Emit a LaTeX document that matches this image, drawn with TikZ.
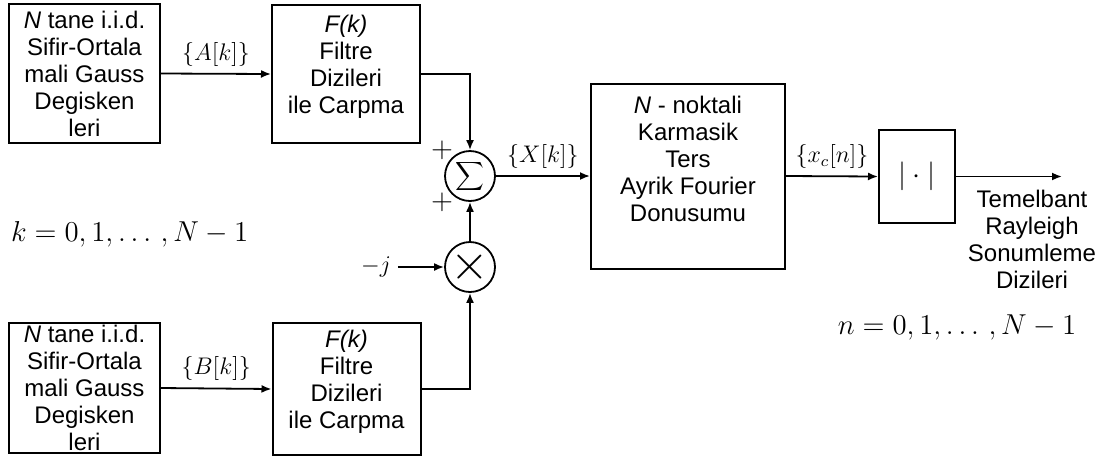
\documentclass[tikz,border=0pt]{standalone}
\usepackage[no-math]{fontspec}
\setsansfont{Liberation Sans}
\usetikzlibrary{arrows.meta}

\begin{document}
\begin{tikzpicture}[
    x=0.5pt, y=-0.5pt,
    flow/.style={-{Latex[length=5pt, width=4pt]}, line width=0.9pt},
    blok/.style={draw, line width=1pt, align=center, inner sep=0pt,
      font=\sffamily\fontsize{12}{13.5}\selectfont},
    toplam/.style={draw, circle, line width=0.9pt, minimum size=25pt, inner sep=0pt},
    etiket/.style={font=\large},
    indis/.style={font=\fontsize{13.5}{16}\selectfont},
  ]
  \useasboundingbox (0,0) rectangle (1114,468);

  % ---- ust kol: A[k] ----
  \node[blok, minimum width=75.5pt, minimum height=69.5pt] (srcA) at (84.5,73.5) {%
    \textit{N} tane i.i.d.\\ Sifir-Ortala\\ mali Gauss\\ Degisken\\ leri};
  \node[blok, minimum width=74pt, minimum height=69pt] (filtA) at (346,74) {%
    \textit{F(k)}\\ Filtre\\ Dizileri\\ ile Carpma\\[-4pt] \mbox{}};
  \draw[flow] (srcA.east) -- node[above, etiket]{$\{A[k]\}$} (filtA.west);

  % ---- alt kol: B[k] ----
  \node[blok, minimum width=75.5pt, minimum height=65pt] (srcB) at (84.5,388) {%
    \textit{N} tane i.i.d.\\ Sifir-Ortala\\ mali Gauss\\ Degisken\\ leri};
  \node[blok, minimum width=74pt, minimum height=66pt] (filtB) at (346.5,389) {%
    \textit{F(k)}\\ Filtre\\ Dizileri\\ ile Carpma\\[-4pt] \mbox{}};
  \draw[flow] (srcB.east) -- node[above, etiket]{$\{B[k]\}$} (filtB.west);

  % ---- toplama ve carpma ----
  \node[toplam, label={[font=\fontsize{19}{19}\selectfont]center:$\displaystyle\sum$}] (sum) at (470,176) {};
  \node[toplam, label={[font=\fontsize{26}{26}\selectfont]center:$\times$}] (mul) at (470,267) {};
  \node[etiket] (mj) at (376,267) {$-j$};
  \node[font=\Large] (plusA) at (442,150) {$+$};
  \node[font=\Large] (plusB) at (442,202) {$+$};

  \draw[flow] (filtA.east) -| (sum.north);
  \draw[flow] (filtB.east) -| (mul.south);
  \draw[flow] (mul.north) -- (sum.south);
  \draw[flow] (mj.east) -- (mul.west);

  % ---- IDFT ve genlik ----
  \node[blok, minimum width=97pt, minimum height=92.5pt] (idft) at (688,176) {%
    \textit{N} - noktali\\ Karmasik\\ Ters\\ Ayrik Fourier\\ Donusumu\\ \strut};
  \node[blok, minimum width=38pt, minimum height=46.5pt, font=\Large] (absbox) at (917,176.5) {$|\cdot|$};
  \coordinate (out) at (1062,176.5);

  \draw[flow] (sum.east) -- node[above, etiket]{$\{X[k]\}$} (idft.west);
  \draw[flow] (idft.east) -- node[above, etiket]{$\{x_c[n]\}$} (absbox.west);
  \draw[flow] (absbox.east) -- (out);

  \node[align=center, anchor=north, font=\sffamily\fontsize{12}{13.5}\selectfont] (cikis) at (1032,183) {%
    Temelbant\\ Rayleigh\\ Sonumleme\\ Dizileri};

  % ---- indisler ----
  \node[indis, anchor=west] (kidx) at (4,234) {$k = 0, 1, \ldots\,, N-1$};
  \node[indis] (nidx) at (957,327) {$n = 0, 1, \ldots\,, N-1$};

\end{tikzpicture}
\end{document}
